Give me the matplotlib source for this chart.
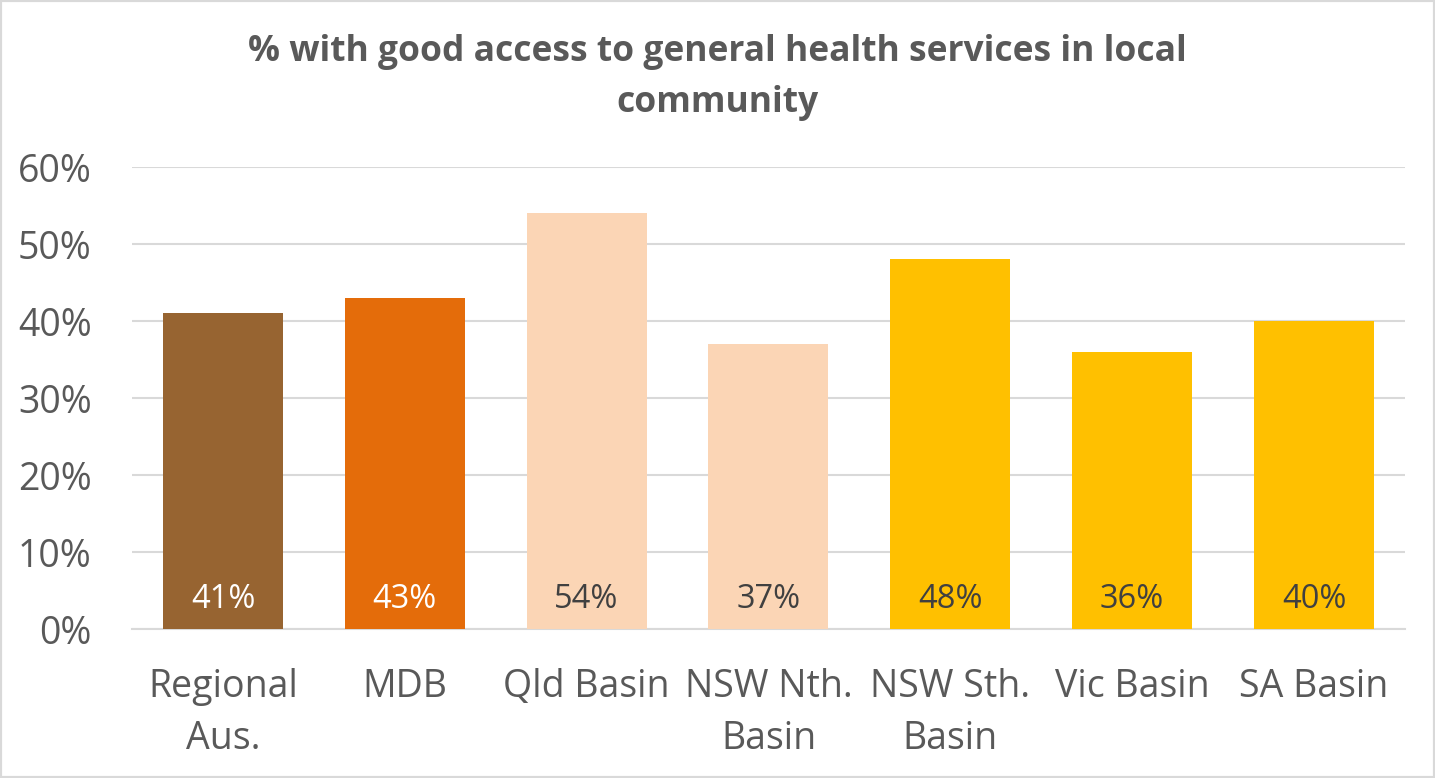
import matplotlib
matplotlib.use("Agg")
import matplotlib.pyplot as plt
from matplotlib.patches import Rectangle

categories = ["Regional\nAus.", "MDB", "Qld Basin", "NSW Nth.\nBasin",
              "NSW Sth.\nBasin", "Vic Basin", "SA Basin"]
values = [0.41, 0.43, 0.54, 0.37, 0.48, 0.36, 0.40]
bar_colors = ["#976431", "#E46C0A", "#FBD5B5", "#FBD5B5",
              "#FFC000", "#FFC000", "#FFC000"]
label_colors = ["white", "white", "#404040", "#404040",
                "#404040", "#404040", "#404040"]
y_ticks = [0.0, 0.1, 0.2, 0.3, 0.4, 0.5, 0.6]
title = "% with good access to general health services in local\ncommunity"

plt.rcParams["font.family"] = ["Open Sans", "DejaVu Sans"]
text_gray = "#595959"

fig = plt.figure(figsize=(14.35, 7.78), dpi=100)
ax = fig.add_axes([0.092, 0.1915, 0.887, 0.5938])

x = list(range(len(categories)))
bars = ax.bar(x, values, width=0.66, color=bar_colors, zorder=3)

for xi, v, c in zip(x, values, label_colors):
    ax.annotate(f"{v*100:.0f}%", (xi, 0), xytext=(0, 30),
                textcoords="offset pixels", ha="center", va="center",
                fontsize=23.5, color=c, zorder=4)

ax.set_xlim(-0.5, len(categories) - 0.5)
ax.set_ylim(0, 0.6)
ax.set_yticks(y_ticks)
ax.set_yticklabels([f"{t*100:.0f}%" for t in y_ticks])
ax.yaxis.grid(True, color="#D9D9D9", linewidth=1.5, zorder=0)
ax.set_axisbelow(True)
for s in ["top", "right", "left"]:
    ax.spines[s].set_visible(False)
ax.spines["bottom"].set_color("#D9D9D9")
ax.spines["bottom"].set_linewidth(1.5)
ax.tick_params(axis="both", length=0, labelsize=27, colors=text_gray)
ax.tick_params(axis="y", pad=29)
ax.tick_params(axis="x", pad=28)
ax.set_xticks(x)
ax.set_xticklabels(categories, linespacing=1.5)

fig.text(0.5, 0.9, title, ha="center", va="center", fontsize=25.5,
         fontweight="bold", color=text_gray, linespacing=1.55)

fig.patches.append(Rectangle((0, 0), 1, 1, transform=fig.transFigure,
                             fill=False, edgecolor="#D9D9D9", linewidth=3))

fig.savefig("out.png", dpi=100, facecolor="white")
